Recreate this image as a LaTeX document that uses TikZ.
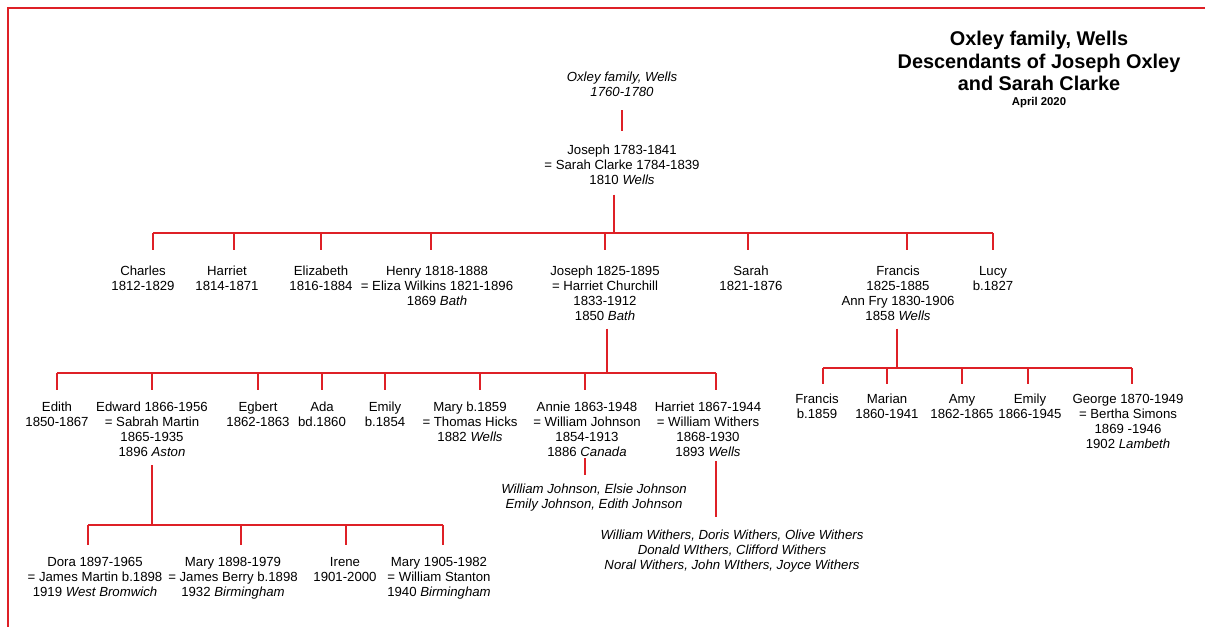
\documentclass[tikz,border=0pt]{standalone}
\usepackage{fontspec}
\setmainfont{Liberation Sans}
\definecolor{famred}{RGB}{222,32,38}
\begin{document}
\begin{tikzpicture}[x=0.75pt,y=-0.75pt,
  rel/.style={draw=famred,line width=1.5pt},
  person/.style={anchor=north,align=center,inner sep=0pt,outer sep=0pt,font=\fontsize{9.9}{11.25}\selectfont},
  kids/.style={person,font=\fontsize{9.9}{11.25}\selectfont\itshape},
  titlebox/.style={anchor=north,align=center,inner sep=0pt,outer sep=0pt,font=\fontsize{14.9}{17}\selectfont\bfseries},
  datebox/.style={anchor=north,align=center,inner sep=0pt,outer sep=0pt,font=\fontsize{8.5}{10}\selectfont\bfseries}]
\useasboundingbox (0,0) rectangle (1205,627);
\fill[white] (0,0) rectangle (1205,627);
\draw[famred,line width=1.5pt] (8,627) -- (8,8) -- (1205,8);

% title
\node[titlebox] (title) at (1039,31) {Oxley family, Wells\\Descendants of Joseph Oxley\\and Sarah Clarke};
\node[datebox] (date) at (1039,97) {April 2020};

% generation 0/1
\node[kids] (origin) at (622,72) {Oxley family, Wells\\1760-1780};
\node[person] (joseph) at (622,145) {Joseph 1783-1841\\= Sarah Clarke 1784-1839\\1810 \textit{Wells}};
\draw[rel,shorten <=10pt,shorten >=10.5pt] (origin.south) -- (joseph.north);

% generation 2
\node[person] (charles) at (143,266) {Charles\\1812-1829};
\node[person] (harriet) at (227,266) {Harriet\\1814-1871};
\node[person] (elizabeth) at (321,266) {Elizabeth\\1816-1884};
\node[person] (henry) at (437,266) {Henry 1818-1888\\= Eliza Wilkins 1821-1896\\1869 \textit{Bath}};
\node[person] (josephb) at (605,266) {Joseph 1825-1895\\= Harriet Churchill\\1833-1912\\1850 \textit{Bath}};
\node[person] (sarah) at (751,266) {Sarah\\1821-1876};
\node[person] (francis) at (898,266) {Francis\\1825-1885\\Ann Fry 1830-1906\\1858 \textit{Wells}};
\node[person] (lucy) at (993,266) {Lucy\\b.1827};

\coordinate (j1) at (614,233);
\coordinate (d-charles) at (153,233);
\coordinate (d-harriet) at (234,233);
\coordinate (d-elizabeth) at (321,233);
\coordinate (d-henry) at (431,233);
\coordinate (d-josephb) at (605,233);
\coordinate (d-sarah) at (748,233);
\coordinate (d-francis) at (907,233);
\coordinate (d-lucy) at (993,233);
\draw[rel,shorten <=7.5pt] (joseph.south -| j1) -- (j1);
\draw[rel] (d-charles) -- (d-lucy);
\foreach \c in {charles,harriet,elizabeth,henry,josephb,sarah,francis,lucy}
  \draw[rel,shorten >=12pt] (d-\c) -- (d-\c |- \c.north);

% generation 3 (children of Joseph)
\node[person] (edith) at (57,402) {Edith\\1850-1867};
\node[person] (edward) at (152,402) {Edward 1866-1956\\= Sabrah Martin\\1865-1935\\1896 \textit{Aston}};
\node[person] (egbert) at (258,402) {Egbert\\1862-1863};
\node[person] (ada) at (322,402) {Ada\\bd.1860};
\node[person] (emily) at (385,402) {Emily\\b.1854};
\node[person] (mary) at (470,402) {Mary b.1859\\= Thomas Hicks\\1882 \textit{Wells}};
\node[person] (annie) at (587,402) {Annie 1863-1948\\= William Johnson\\1854-1913\\1886 \textit{Canada}};
\node[person] (harrietw) at (708,402) {Harriet 1867-1944\\= William Withers\\1868-1930\\1893 \textit{Wells}};

\coordinate (j2) at (607,373);
\coordinate (d-edith) at (57,373);
\coordinate (d-edward) at (152,373);
\coordinate (d-egbert) at (258,373);
\coordinate (d-ada) at (322,373);
\coordinate (d-emily) at (385,373);
\coordinate (d-mary) at (480,373);
\coordinate (d-annie) at (585,373);
\coordinate (d-harrietw) at (716,373);
\draw[rel,shorten <=6pt] (josephb.south -| j2) -- (j2);
\draw[rel] (d-edith) -- (d-harrietw);
\foreach \c in {edith,edward,egbert,ada,emily,mary,annie,harrietw}
  \draw[rel,shorten >=9pt] (d-\c) -- (d-\c |- \c.north);

% generation 3 (children of Francis)
\node[person] (francisb) at (817,394) {Francis\\b.1859};
\node[person] (marian) at (887,394) {Marian\\1860-1941};
\node[person] (amy) at (962,394) {Amy\\1862-1865};
\node[person] (emilyb) at (1030,394) {Emily\\1866-1945};
\node[person] (george) at (1128,394) {George 1870-1949\\= Bertha Simons\\1869 -1946\\1902 \textit{Lambeth}};

\coordinate (f2) at (897,368);
\coordinate (d-francisb) at (823,368);
\coordinate (d-marian) at (887,368);
\coordinate (d-amy) at (962,368);
\coordinate (d-emilyb) at (1028,368);
\coordinate (d-george) at (1132,368);
\draw[rel,shorten <=6pt] (francis.south -| f2) -- (f2);
\draw[rel] (d-francisb) -- (d-george);
\foreach \c in {francisb,marian,amy,emilyb,george}
  \draw[rel,shorten >=7.5pt] (d-\c) -- (d-\c |- \c.north);

% grandchildren lists
\node[kids] (johnsons) at (594,484) {William Johnson, Elsie Johnson\\Emily Johnson, Edith Johnson};
\node[kids] (withers) at (732,530) {William Withers, Doris Withers, Olive Withers\\Donald WIthers, Clifford Withers\\Noral Withers, John WIthers, Joyce Withers};
\coordinate (ja) at (585,460);
\coordinate (hw) at (716,463);
\draw[rel,shorten <=1.2pt,shorten >=7pt] (ja |- annie.south) -- (ja |- johnsons.north);
\draw[rel,shorten <=3.4pt,shorten >=9.75pt] (hw |- harrietw.south) -- (hw |- withers.north);

% generation 4 (children of Edward)
\node[person] (dora) at (95,557) {Dora 1897-1965\\= James Martin b.1898\\1919 \textit{West Bromwich}};
\node[person] (maryb) at (233,557) {Mary 1898-1979\\= James Berry b.1898\\1932 \textit{Birmingham}};
\node[person] (irene) at (345,557) {Irene\\1901-2000};
\node[person] (marys) at (439,557) {Mary 1905-1982\\= William Stanton\\1940 \textit{Birmingham}};

\coordinate (e3) at (152,525);
\coordinate (d-dora) at (88,525);
\coordinate (d-maryb) at (241,525);
\coordinate (d-irene) at (346,525);
\coordinate (d-marys) at (443,525);
\draw[rel,shorten <=6.4pt] (edward.south -| e3) -- (e3);
\draw[rel] (d-dora) -- (d-marys);
\foreach \c in {dora,maryb,irene,marys}
  \draw[rel,shorten >=9pt] (d-\c) -- (d-\c |- \c.north);
\end{tikzpicture}
\end{document}
